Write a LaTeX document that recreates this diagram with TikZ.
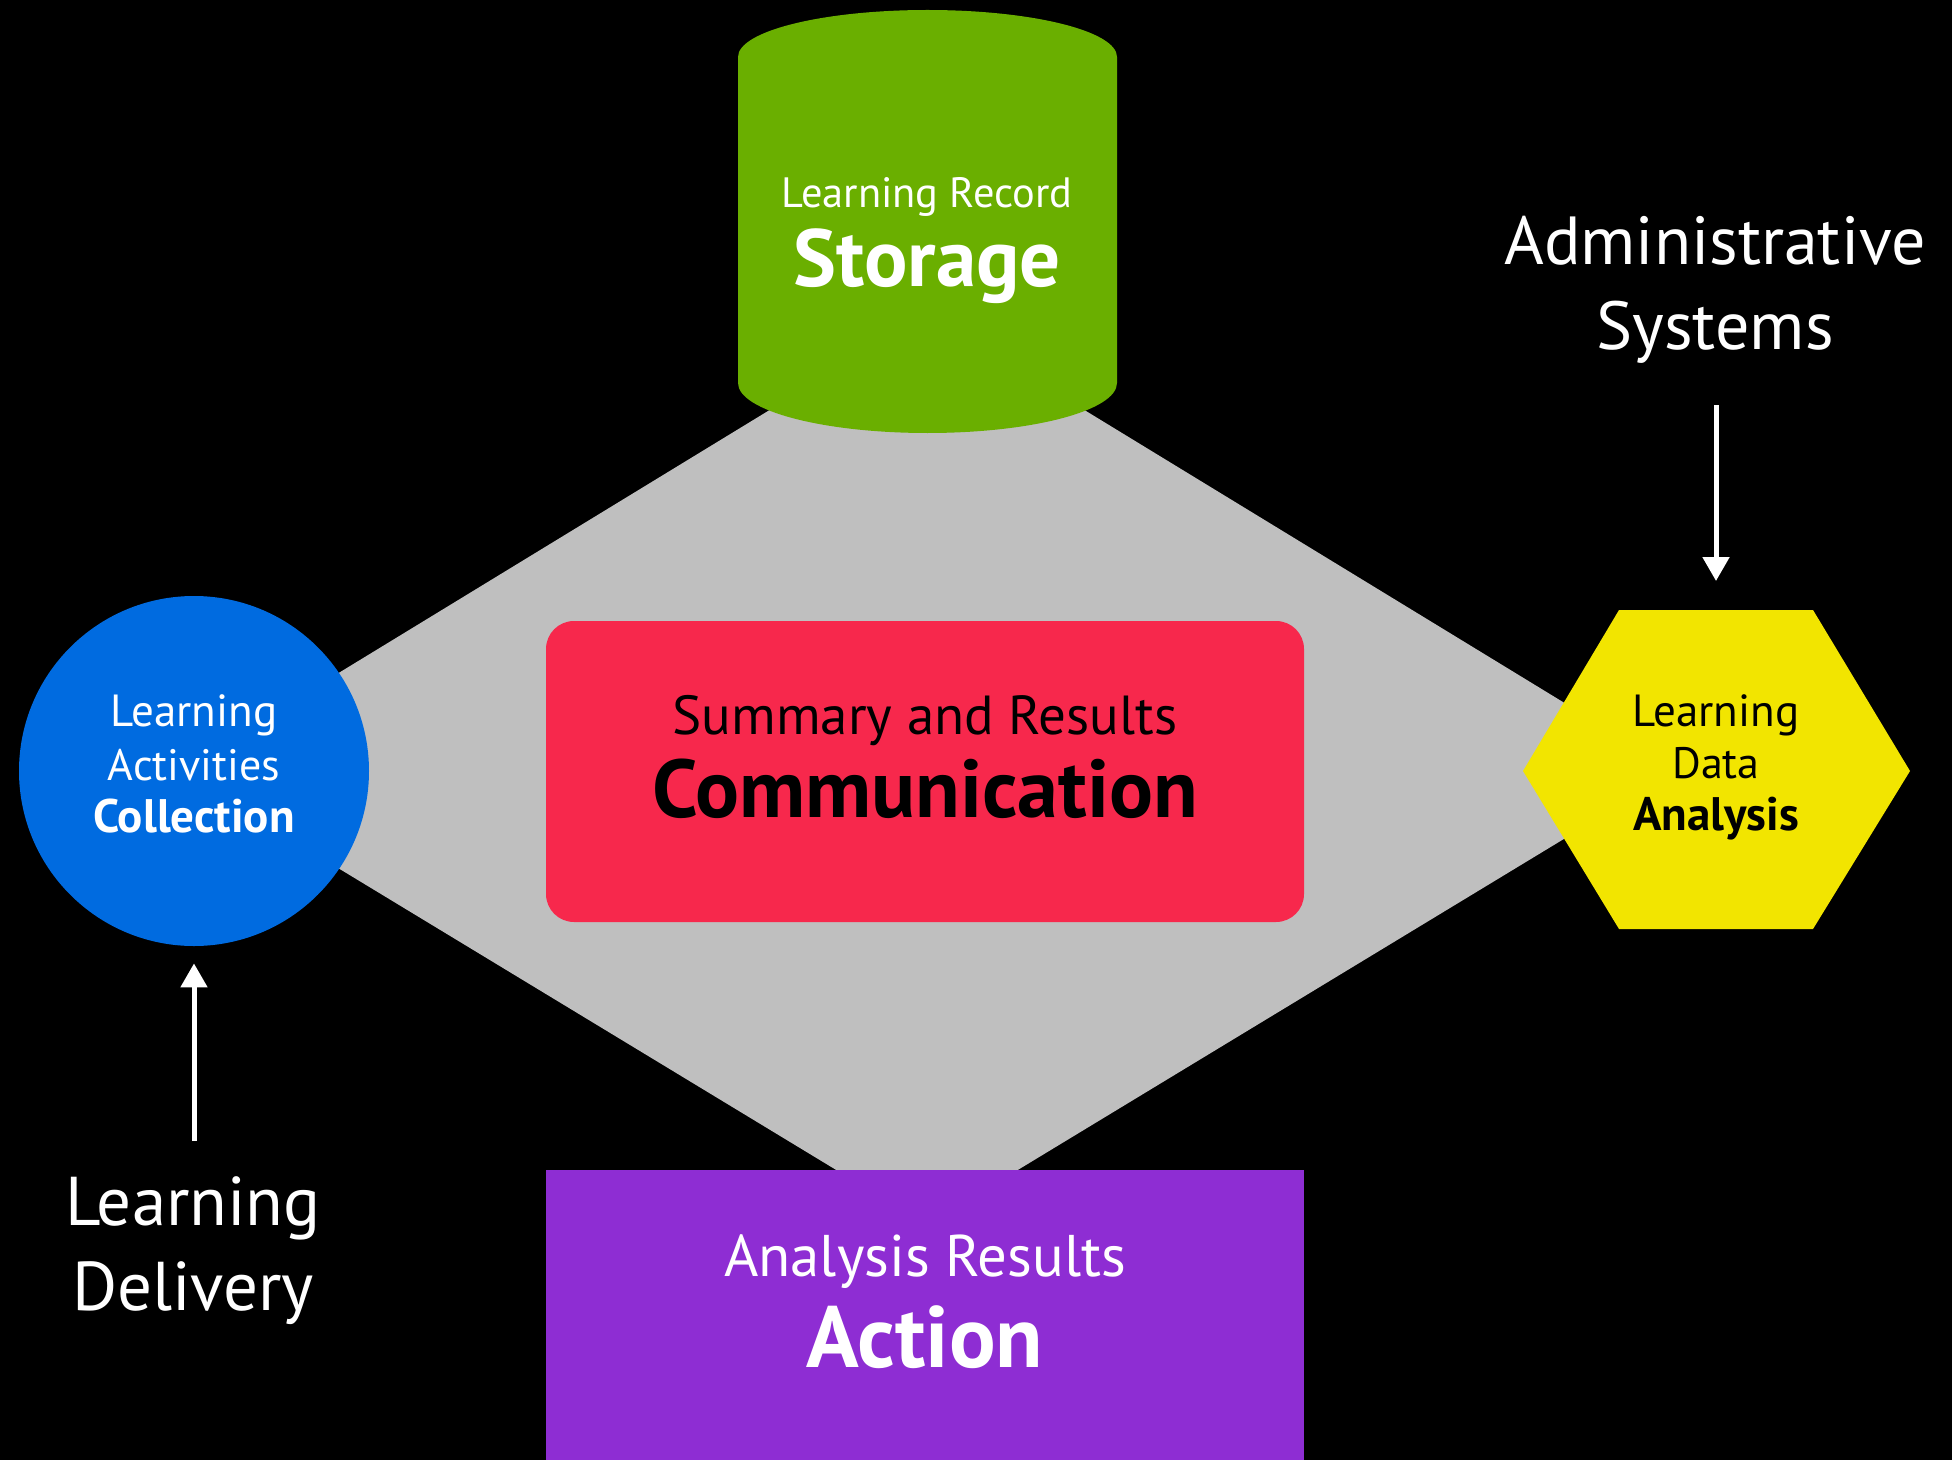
\documentclass[tikz,border=0pt]{standalone}
\usepackage{fontspec}
\setmainfont{PT Sans}
\usetikzlibrary{arrows.meta}
\definecolor{diagray}{RGB}{191,191,191}
\definecolor{storgreen}{RGB}{106,175,0}
\definecolor{collblue}{RGB}{0,107,224}
\definecolor{commred}{RGB}{247,40,76}
\definecolor{anayellow}{RGB}{242,229,0}
\definecolor{actpurple}{RGB}{142,45,211}
\begin{document}
\begin{tikzpicture}[x=0.5pt,y=-0.5pt,
  lbl/.style={anchor=base,inner sep=0pt,outer sep=0pt},
  flowarrow/.style={draw=white,line width=2.5pt,-{Triangle[width=13pt,length=12pt]}},
  fs/.style={font=\fontsize{#1}{#1}\selectfont},
  fsb/.style={font=\fontsize{#1}{#1}\selectfont\bfseries}]
% background
\fill[black] (0,0) rectangle (1952,1460);
\useasboundingbox (0,0) rectangle (1952,1460);
% gray diamond
\coordinate (dL) at (178,771);
\coordinate (dT) at (927,314);
\coordinate (dR) at (1676,771);
\coordinate (dB) at (927,1225);
\fill[diagray] (dL) -- (dT) -- (dR) -- (dB) -- cycle;
% storage cylinder
\fill[storgreen] (738,57) arc[start angle=180,end angle=360,x radius=189.5,y radius=47]
  -- (1117,383) arc[start angle=0,end angle=180,x radius=189.5,y radius=50] -- cycle;
% collection circle
\node[circle,fill=collblue,minimum size=175pt,inner sep=0pt] (coll) at (194,771) {};
% analysis hexagon
\coordinate (hexTop) at (1716,610);
\fill[anayellow] (1523,771) -- (1619,610) -- (1813,610) -- (1910,771) -- (1813,929) -- (1619,929) -- cycle;
% communication box
\node[fill=commred,rounded corners=14pt,minimum width=379pt,minimum height=150.5pt,inner sep=0pt] (comm) at (925,771.5) {};
% action box
\node[fill=actpurple,minimum width=379pt,minimum height=145pt,inner sep=0pt,anchor=north west] (act) at (546,1170) {};
% texts
\node[lbl,fs=21.2,text=white] (storA) at (927,208) {Learning Record};
\node[lbl,fsb=40.5,text=white] (storB) at (927,287) {Storage};
\node[lbl,fs=22.5,text=white] (collA) at (194,726) {Learning};
\node[lbl,fs=22,text=white] (collB) at (194,780) {Activities};
\node[lbl,fsb=23.5,text=white] (collC) at (194,832) {Collection};
\node[lbl,fs=22.5,text=black] (anaA) at (1716,726) {Learning};
\node[lbl,fs=22,text=black] (anaB) at (1716,778) {Data};
\node[lbl,fsb=23.5,text=black] (anaC) at (1716,830) {Analysis};
\node[lbl,fs=27.5,text=black] (commA) at (925,734) {Summary and Results};
\node[lbl,fsb=41,text=black] (commB) at (925,817) {Communication};
\node[lbl,fs=29.4,text=white] (actA) at (925,1276) {Analysis Results};
\node[lbl,fsb=43.5,text=white] (actB) at (925,1367) {Action};
\node[lbl,fs=34,text=white] (admA) at (1715,265) {Administrative};
\node[lbl,fs=34,text=white] (admB) at (1715,350) {Systems};
\node[lbl,fs=34.5,text=white] (delA) at (193,1225) {Learning};
\node[lbl,fs=34.5,text=white] (delB) at (193,1310) {Delivery};
% arrows
\coordinate (admStart) at (1716,405);
\coordinate (delStart) at (194,1141);
\draw[flowarrow] (admStart) -- ([yshift=14.5pt]hexTop);
\draw[flowarrow] (delStart) -- ([yshift=-8.5pt]coll.south);
\end{tikzpicture}
\end{document}
